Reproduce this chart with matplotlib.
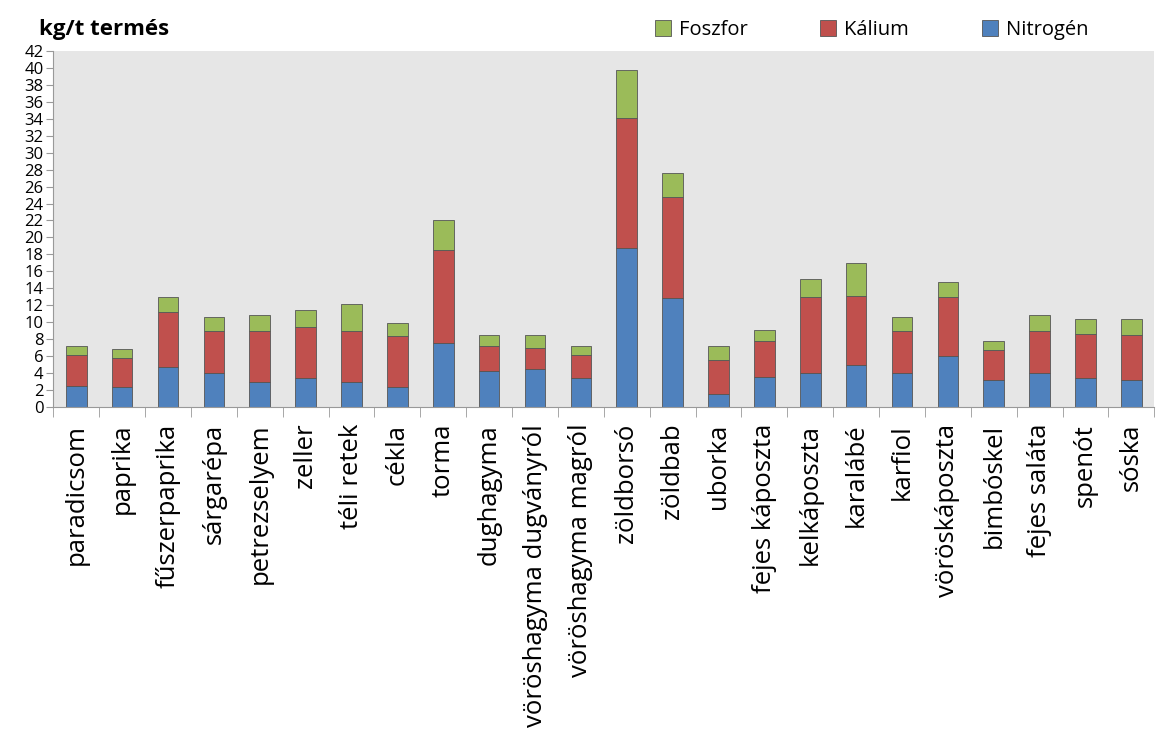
import numpy as np
import matplotlib
matplotlib.use("Agg")
from matplotlib import pyplot as plt
from matplotlib.ticker import FixedLocator, NullFormatter

plt.rcParams['font.family'] = ['Open Sans', 'DejaVu Sans']

categories = [
    "paradicsom", "paprika", "fűszerpaprika", "sárgarépa", "petrezselyem",
    "zeller", "téli retek", "cékla", "torma", "dughagyma",
    "vöröshagyma dugványról", "vöröshagyma magról", "zöldborsó", "zöldbab",
    "uborka", "fejes káposzta", "kelkáposzta", "karalábé", "karfiol",
    "vöröskáposzta", "bimbóskel", "fejes saláta", "spenót", "sóska",
]
nitrogen = [2.45, 2.4, 4.7, 4.0, 2.95, 3.4, 2.95, 2.4, 7.5, 4.3,
            4.5, 3.4, 18.8, 12.9, 1.6, 3.5, 4.0, 5.0, 4.0,
            6.0, 3.2, 4.0, 3.4, 3.2]
kalium = [3.65, 3.4, 6.5, 5.0, 6.05, 6.1, 6.05, 6.0, 11.0, 2.9,
          2.5, 2.8, 15.3, 11.9, 4.0, 4.3, 8.95, 8.05, 4.95,
          7.0, 3.55, 5.0, 5.25, 5.25]
foszfor = [1.05, 1.05, 1.8, 1.6, 1.9, 2.0, 3.15, 1.5, 3.5, 1.25,
           1.45, 0.95, 5.6, 2.85, 1.55, 1.3, 2.1, 3.95, 1.65,
           1.75, 1.05, 1.9, 1.75, 1.95]
yticks = list(range(0, 43, 2))

blue = "#4F81BD"
red = "#C0504D"
green = "#9BBB59"

fig = plt.figure(figsize=(11.59, 7.47), dpi=100)
ax = fig.add_axes([0.046, 0.455, 0.95, 0.477])
ax.set_facecolor("#E6E6E6")

x = np.arange(len(categories))
n = np.array(nitrogen)
k = np.array(kalium)
p = np.array(foszfor)
w = 0.45
edge = dict(edgecolor="#555555", linewidth=0.6)
ax.bar(x, n, w, color=blue, label="Nitrogén", **edge)
ax.bar(x, k, w, bottom=n, color=red, label="Kálium", **edge)
ax.bar(x, p, w, bottom=n + k, color=green, label="Foszfor", **edge)

ax.set_xlim(-0.5, len(categories) - 0.5)
ax.set_ylim(0, 42)
ax.set_yticks(yticks)
ax.set_yticklabels([str(v) for v in yticks], fontsize=12)

# category labels centred, tick marks on the boundaries
ax.set_xticks(x)
ax.set_xticklabels(categories, rotation=90, fontsize=18.5)
ax.tick_params(axis='x', length=0, pad=12)
ax.xaxis.set_minor_locator(FixedLocator(np.arange(-0.5, len(categories), 1)))
ax.xaxis.set_minor_formatter(NullFormatter())
ax.tick_params(axis='x', which='minor', length=7, color="#999999", direction='out')
ax.tick_params(axis='y', length=5, color="#999999", pad=2)

for s in ["top", "right"]:
    ax.spines[s].set_visible(False)
for s in ["left", "bottom"]:
    ax.spines[s].set_color("#999999")

fig.text(0.034, 0.96, "kg/t termés", fontsize=16, fontweight="bold", va="center")

handles, labels = ax.get_legend_handles_labels()
fig.legend(handles[::-1], labels[::-1], loc="center", bbox_to_anchor=(0.752, 0.96),
           ncol=3, frameon=False, fontsize=14.5, handlelength=0.8, handleheight=0.8,
           columnspacing=3.6, handletextpad=0.4)

fig.savefig("out.png", dpi=100)
